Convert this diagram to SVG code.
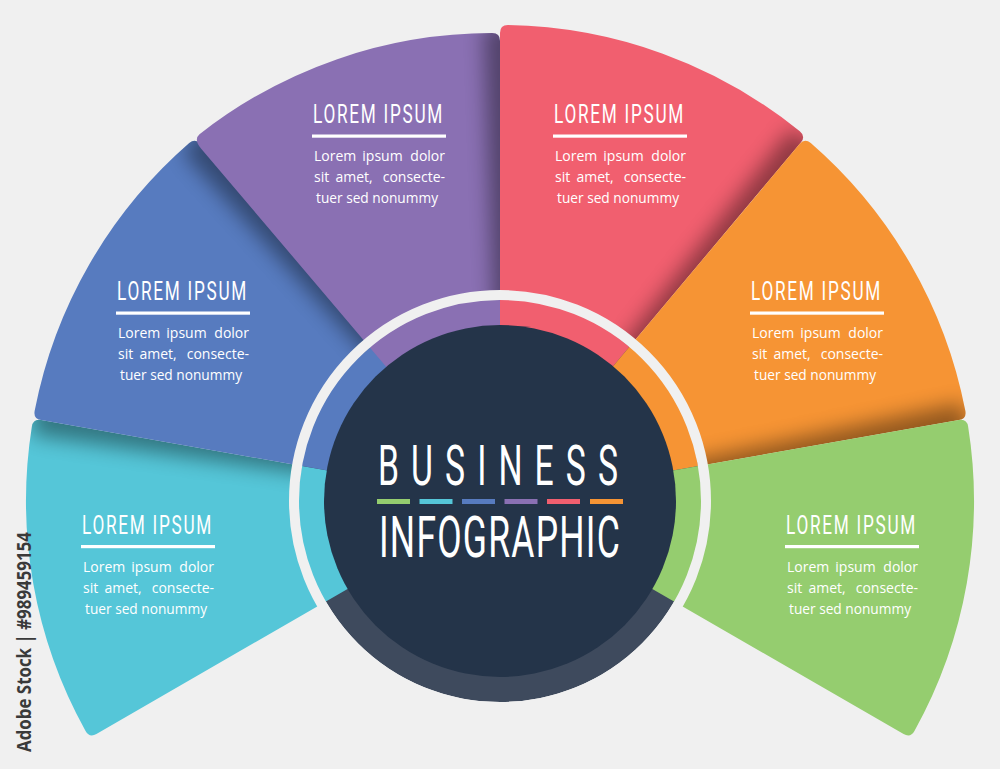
<svg xmlns="http://www.w3.org/2000/svg" width="1000" height="769" viewBox="0 0 1000 769">
<style>
.h{font-family:Roboto,"Liberation Sans",sans-serif;font-size:25px;font-weight:400;fill:#fff;letter-spacing:2.5px}
.b{font-family:"Open Sans","Liberation Sans",sans-serif;font-size:14px;fill:#fff}
.ul{fill:#fff}
.t{font-family:Roboto,"Liberation Sans",sans-serif;font-weight:400;fill:#fff}
.sh{fill:#000;opacity:0.4}
</style>
<defs>
<filter id="blur" filterUnits="userSpaceOnUse" x="-300" y="-300" width="1600" height="1400"><feGaussianBlur stdDeviation="10"/></filter>
<clipPath id="ann"><path clip-rule="evenodd" d="M-200,-200H1200V1000H-200Z M500,501 m-201,0 a201,201 0 1,0 402,0 a201,201 0 1,0 -402,0Z"/></clipPath>
<path id="p-cyan" d="M500,501 L41.08,420.08 Q33.20,418.69 31.88,426.58 A474,474 0 0 0 85.55,731.05 Q89.50,738 96.43,734 Z"/>
<path id="p-blue" d="M500,501 L200.46,144.02 Q195.32,137.89 189.23,143.09 A474,474 0 0 0 34.66,410.83 Q33.20,418.69 41.08,420.08 Z"/>
<path id="p-purple" d="M500,501 L500,41 Q500,33 492,33.1 A474,474 0 0 0 199.5,134.3 Q193.42,139.5 201.18,148.65 Z"/>
<path id="p-pink" d="M500,501 L800.82,142.49 Q805.97,136.36 799.79,131.27 A476,476 0 0 0 508,25.07 Q500,25 500,33 Z"/>
<path id="p-orange" d="M500,501 L958.92,420.08 Q966.80,418.69 965.34,410.83 A474,474 0 0 0 810.77,143.09 Q804.68,137.89 799.54,144.02 Z"/>
<path id="p-green" d="M500,501 L903.57,734 Q910.50,738 914.45,731.05 A474,474 0 0 0 968.12,426.58 Q966.80,418.69 958.92,420.08 Z"/>
<clipPath id="c-cyan"><use href="#p-cyan"/></clipPath>
<clipPath id="c-blue"><use href="#p-blue"/></clipPath>
<clipPath id="c-purple"><use href="#p-purple"/></clipPath>
<clipPath id="c-pink"><use href="#p-pink"/></clipPath>
<clipPath id="c-orange"><use href="#p-orange"/></clipPath>
</defs>
<rect width="1000" height="769" fill="#f0f0f0"/>
<circle id="center-base" cx="500" cy="501" r="201" fill="#3e4a5d"/>

<g id="node-cyan">
<use href="#p-cyan" fill="#55c6d8"/>
<text class="h" x="82" y="533.5" textLength="131" lengthAdjust="spacingAndGlyphs">LOREM IPSUM</text>
<rect class="ul" x="81" y="545" width="134" height="3.2"/>
<text class="b" x="83" y="571.5">Lorem</text><text class="b" x="151.5" y="571.5" text-anchor="middle">ipsum</text><text class="b" x="214" y="571.5" text-anchor="end">dolor</text>
<text class="b" x="83" y="592.5">sit</text><text class="b" x="123" y="592.5" text-anchor="middle">amet,</text><text class="b" x="214" y="592.5" text-anchor="end">consecte-</text>
<text class="b" x="85" y="613.5" textLength="122" lengthAdjust="spacingAndGlyphs">tuer sed nonummy</text>
</g>

<g id="node-blue">
<g clip-path="url(#c-cyan)"><g clip-path="url(#ann)"><use href="#p-blue" class="sh" transform="rotate(-2 500 501)" filter="url(#blur)"/></g></g>
<use href="#p-blue" fill="#577bbf"/>
<text class="h" x="117" y="300" textLength="131" lengthAdjust="spacingAndGlyphs">LOREM IPSUM</text>
<rect class="ul" x="116" y="311.5" width="134" height="3.2"/>
<text class="b" x="118" y="338">Lorem</text><text class="b" x="186.5" y="338" text-anchor="middle">ipsum</text><text class="b" x="249" y="338" text-anchor="end">dolor</text>
<text class="b" x="118" y="359">sit</text><text class="b" x="158" y="359" text-anchor="middle">amet,</text><text class="b" x="249" y="359" text-anchor="end">consecte-</text>
<text class="b" x="120" y="380" textLength="122" lengthAdjust="spacingAndGlyphs">tuer sed nonummy</text>
</g>

<g id="node-purple">
<g clip-path="url(#c-blue)"><g clip-path="url(#ann)"><use href="#p-purple" class="sh" transform="rotate(-2 500 501)" filter="url(#blur)"/></g></g>
<use href="#p-purple" fill="#8a70b3"/>
<text class="h" x="313" y="123" textLength="131" lengthAdjust="spacingAndGlyphs">LOREM IPSUM</text>
<rect class="ul" x="312" y="134.5" width="134" height="3.2"/>
<text class="b" x="314" y="161">Lorem</text><text class="b" x="382.5" y="161" text-anchor="middle">ipsum</text><text class="b" x="445" y="161" text-anchor="end">dolor</text>
<text class="b" x="314" y="182">sit</text><text class="b" x="354" y="182" text-anchor="middle">amet,</text><text class="b" x="445" y="182" text-anchor="end">consecte-</text>
<text class="b" x="316" y="203" textLength="122" lengthAdjust="spacingAndGlyphs">tuer sed nonummy</text>
</g>

<g id="node-pink">
<g clip-path="url(#c-purple)"><g clip-path="url(#ann)"><use href="#p-pink" class="sh" transform="rotate(-2 500 501)" filter="url(#blur)"/></g></g>
<use href="#p-pink" fill="#f15f6f"/>
<text class="h" x="554" y="123" textLength="131" lengthAdjust="spacingAndGlyphs">LOREM IPSUM</text>
<rect class="ul" x="553" y="134.5" width="134" height="3.2"/>
<text class="b" x="555" y="161">Lorem</text><text class="b" x="623.5" y="161" text-anchor="middle">ipsum</text><text class="b" x="686" y="161" text-anchor="end">dolor</text>
<text class="b" x="555" y="182">sit</text><text class="b" x="595" y="182" text-anchor="middle">amet,</text><text class="b" x="686" y="182" text-anchor="end">consecte-</text>
<text class="b" x="557" y="203" textLength="122" lengthAdjust="spacingAndGlyphs">tuer sed nonummy</text>
</g>

<g id="node-orange">
<g clip-path="url(#c-pink)"><g clip-path="url(#ann)"><use href="#p-orange" class="sh" transform="rotate(-2 500 501)" filter="url(#blur)"/></g></g>
<use href="#p-orange" fill="#f69434"/>
<text class="h" x="751" y="300" textLength="131" lengthAdjust="spacingAndGlyphs">LOREM IPSUM</text>
<rect class="ul" x="750" y="311.5" width="134" height="3.2"/>
<text class="b" x="752" y="338">Lorem</text><text class="b" x="820.5" y="338" text-anchor="middle">ipsum</text><text class="b" x="883" y="338" text-anchor="end">dolor</text>
<text class="b" x="752" y="359">sit</text><text class="b" x="792" y="359" text-anchor="middle">amet,</text><text class="b" x="883" y="359" text-anchor="end">consecte-</text>
<text class="b" x="754" y="380" textLength="122" lengthAdjust="spacingAndGlyphs">tuer sed nonummy</text>
</g>

<g id="node-green">
<g clip-path="url(#c-orange)"><g clip-path="url(#ann)"><use href="#p-green" class="sh" transform="rotate(-2 500 501)" filter="url(#blur)"/></g></g>
<use href="#p-green" fill="#95cd6f"/>
<text class="h" x="786" y="533.5" textLength="131" lengthAdjust="spacingAndGlyphs">LOREM IPSUM</text>
<rect class="ul" x="785" y="545" width="134" height="3.2"/>
<text class="b" x="787" y="571.5">Lorem</text><text class="b" x="855.5" y="571.5" text-anchor="middle">ipsum</text><text class="b" x="918" y="571.5" text-anchor="end">dolor</text>
<text class="b" x="787" y="592.5">sit</text><text class="b" x="827" y="592.5" text-anchor="middle">amet,</text><text class="b" x="918" y="592.5" text-anchor="end">consecte-</text>
<text class="b" x="789" y="613.5" textLength="122" lengthAdjust="spacingAndGlyphs">tuer sed nonummy</text>
</g>

<g id="node-center">
<circle cx="500" cy="501" r="206" fill="none" stroke="#f0f0f0" stroke-width="10"/>
<circle cx="500" cy="501" r="176" fill="#243449"/>
<text class="t" x="378" y="485" font-size="56" letter-spacing="20" textLength="252" lengthAdjust="spacingAndGlyphs">BUSINESS</text>
<rect x="377" y="499" width="33" height="5" fill="#95cd6f"/>
<rect x="419.5" y="499" width="33" height="5" fill="#55c6d8"/>
<rect x="462" y="499" width="33" height="5" fill="#577bbf"/>
<rect x="504.5" y="499" width="33" height="5" fill="#8a70b3"/>
<rect x="547" y="499" width="33" height="5" fill="#f15f6f"/>
<rect x="590" y="499" width="33" height="5" fill="#f69434"/>
<text class="t" x="379" y="557" font-size="58" letter-spacing="2" textLength="242" lengthAdjust="spacingAndGlyphs">INFOGRAPHIC</text>
</g>

<text transform="translate(31,752) rotate(-90)" font-family="'Open Sans','Liberation Sans',sans-serif" font-weight="700" font-size="19" fill="#3a3a3a" textLength="220" lengthAdjust="spacingAndGlyphs">Adobe Stock | #989459154</text>
</svg>
